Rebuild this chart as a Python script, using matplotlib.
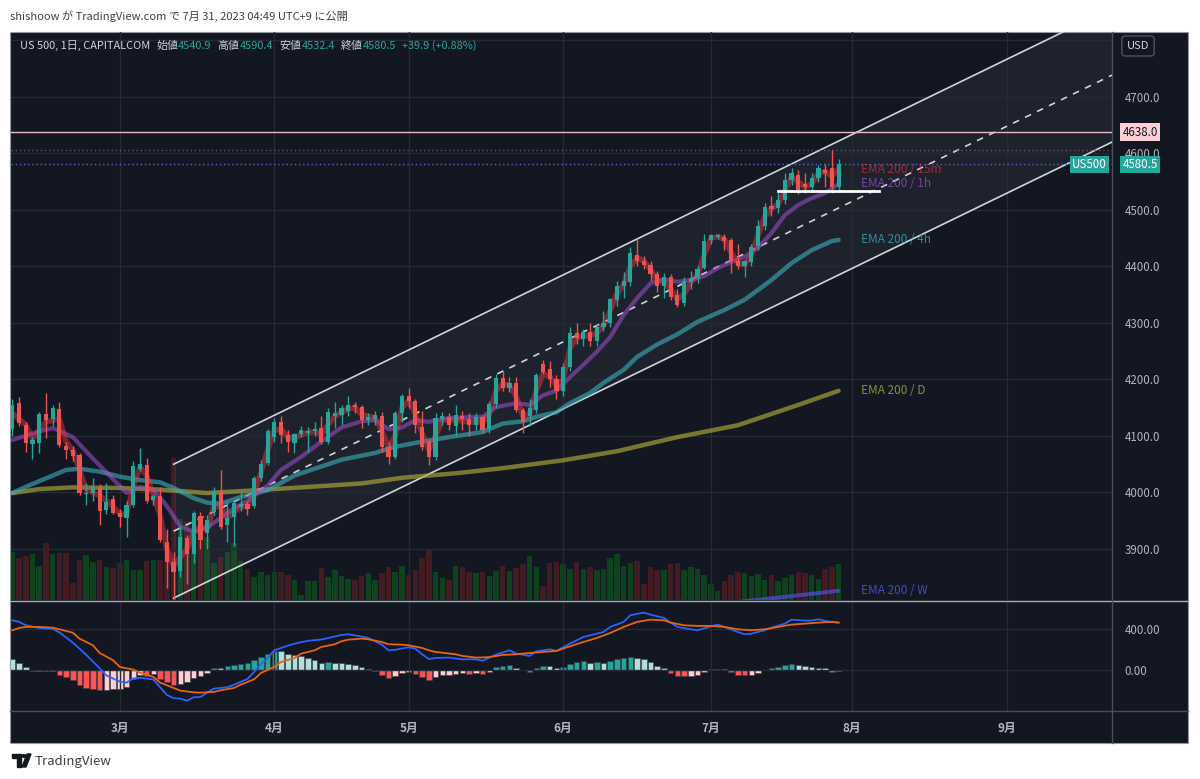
import matplotlib
matplotlib.use('Agg')
import matplotlib.pyplot as plt
from matplotlib.patches import Rectangle, Polygon, Circle
from matplotlib.lines import Line2D
import numpy as np
import pandas as pd

plt.rcParams['font.family'] = ['Noto Sans CJK JP', 'DejaVu Sans']

# ---- data (US 500, daily, CAPITALCOM) ----
dates = pd.bdate_range('2023-02-07', '2023-07-28')

opens = [4112, 4158, 4119, 4085, 4088, 4139, 4130, 4148, 4082, 4075,
         4066, 3997, 3999, 4010, 3969, 3988, 3964, 3955, 3978, 4042,
         4049, 3987, 3994, 3912, 3877, 3861, 3919, 3891, 3958, 3928,
         3966, 4001, 3942, 3957, 3975, 3980, 3976, 4026, 4052, 4098,
         4124, 4102, 4088, 4103, 4105, 4108, 4114, 4090, 4135, 4138,
         4145, 4155, 4152, 4128, 4130, 4135, 4080, 4062, 4140, 4170,
         4162, 4116, 4089, 4062, 4130, 4134, 4118, 4136, 4130, 4120,
         4133, 4112, 4156, 4202, 4185, 4194, 4146, 4135, 4146, 4228,
         4218, 4200, 4180, 4222, 4282, 4272, 4284, 4268, 4292, 4300,
         4340, 4366, 4373, 4420, 4410, 4402, 4386, 4366, 4382, 4350,
         4335, 4373, 4380, 4397, 4447, 4452, 4452, 4447, 4410, 4400,
         4408, 4436, 4472, 4507, 4504, 4518, 4553, 4562, 4546, 4540,
         4557, 4570, 4574, 4540.9]
highs = [4165, 4169, 4125, 4098, 4142, 4176, 4155, 4160, 4090, 4083,
         4070, 4017, 4026, 4015, 4017, 3995, 3970, 3985, 4055, 4078,
         4061, 3997, 4010, 3935, 3895, 3940, 3925, 3968, 3965, 3960,
         4010, 4040, 3985, 3985, 4000, 3985, 4030, 4058, 4112, 4132,
         4135, 4110, 4105, 4118, 4116, 4125, 4135, 4150, 4160, 4155,
         4170, 4160, 4155, 4140, 4145, 4142, 4090, 4145, 4175, 4185,
         4165, 4145, 4095, 4140, 4142, 4140, 4155, 4145, 4140, 4140,
         4138, 4162, 4210, 4215, 4205, 4205, 4150, 4165, 4212, 4235,
         4232, 4208, 4230, 4292, 4300, 4290, 4300, 4298, 4322, 4345,
         4375, 4390, 4434, 4448, 4418, 4410, 4392, 4388, 4386, 4360,
         4382, 4392, 4400, 4458, 4458, 4458, 4458, 4450, 4440, 4412,
         4440, 4482, 4512, 4525, 4532, 4565, 4575, 4570, 4565, 4565,
         4580, 4582, 4607, 4590.4]
lows = [4100, 4118, 4072, 4060, 4070, 4096, 4118, 4080, 4060, 4055,
        3995, 3978, 3985, 3942, 3962, 3962, 3939, 3921, 3975, 4038,
        3982, 3978, 3912, 3831, 3806, 3850, 3838, 3875, 3900, 3900,
        3960, 3935, 3912, 3905, 3968, 3960, 3972, 4020, 4048, 4090,
        4088, 4072, 4070, 4098, 4072, 4100, 4085, 4085, 4115, 4120,
        4135, 4140, 4115, 4120, 4120, 4072, 4050, 4060, 4125, 4150,
        4105, 4075, 4048, 4058, 4120, 4110, 4100, 4110, 4100, 4110,
        4105, 4105, 4150, 4180, 4178, 4143, 4105, 4118, 4140, 4210,
        4187, 4165, 4170, 4215, 4262, 4260, 4260, 4260, 4285, 4292,
        4330, 4345, 4365, 4400, 4395, 4375, 4355, 4345, 4340, 4328,
        4330, 4360, 4370, 4395, 4440, 4448, 4430, 4388, 4395, 4382,
        4400, 4430, 4465, 4490, 4495, 4510, 4545, 4528, 4530, 4532,
        4550, 4540, 4530, 4532.4]
closes = [4155, 4123, 4088, 4092, 4139, 4128, 4150, 4084, 4075, 4065,
          3999, 3999, 4010, 3967, 3983, 3964, 3957, 3978, 4047, 4050,
          3985, 3994, 3916, 3877, 3859, 3921, 3891, 3964, 3916, 3952,
          4002, 3939, 3955, 3981, 3980, 3971, 4026, 4050, 4108, 4124,
          4102, 4090, 4103, 4110, 4108, 4112, 4090, 4142, 4140, 4150,
          4155, 4152, 4128, 4133, 4137, 4080, 4062, 4140, 4170, 4162,
          4120, 4080, 4062, 4132, 4136, 4120, 4138, 4130, 4120, 4134,
          4110, 4157, 4202, 4185, 4193, 4146, 4125, 4150, 4208, 4213,
          4200, 4180, 4222, 4282, 4274, 4284, 4268, 4293, 4300, 4342,
          4366, 4374, 4424, 4410, 4402, 4386, 4366, 4382, 4346, 4332,
          4375, 4380, 4396, 4445, 4455, 4455, 4445, 4410, 4400, 4410,
          4435, 4472, 4505, 4502, 4518, 4553, 4565, 4536, 4540, 4556,
          4575, 4565, 4540.6, 4580.5]
volume = [48, 42, 44, 46, 34, 57, 46, 47, 47, 17, 40, 45, 38, 40, 33, 32,
          37, 40, 30, 30, 39, 40, 40, 55, 142, 81, 78, 72, 78, 63, 37, 43,
          48, 57, 39, 31, 23, 28, 25, 28, 28, 25, 20, 5, 19, 19, 32, 23,
          30, 24, 21, 20, 24, 27, 20, 27, 33, 28, 34, 25, 30, 42, 50, 28,
          22, 20, 34, 33, 28, 27, 28, 24, 29, 34, 29, 32, 36, 44, 33, 14,
          37, 38, 36, 31, 38, 31, 33, 30, 31, 42, 46, 34, 37, 39, 16, 33,
          30, 30, 36, 37, 30, 33, 31, 25, 16, 9, 19, 25, 28, 27, 24, 26,
          20, 25, 19, 22, 25, 28, 27, 25, 21, 31, 33, 36]

# EMA 200 lines from other timeframes, read at selected bars
ema_15m_bar = [0, 2, 3, 5, 7, 8, 9, 10, 11, 13, 15, 16, 17, 18, 19, 20, 21,
               22, 23, 24, 25, 26, 27, 28, 29, 30, 31, 32, 33, 34, 35, 36,
               37, 38, 39, 40, 41, 42, 43, 45, 46, 47, 48, 50, 51, 52, 54,
               55, 56, 57, 58, 59, 60, 61, 62, 63, 64, 66, 68, 70, 71, 72,
               73, 74, 75, 76, 77, 78, 79, 80, 81, 82, 83, 84, 86, 87, 88,
               89, 90, 91, 92, 93, 94, 95, 96, 97, 98, 99, 100, 101, 102,
               103, 104, 105, 106, 107, 108, 109, 110, 111, 112, 113, 114,
               115, 116, 117, 118, 119, 120, 121, 122, 123]
ema_15m = [4140, 4120, 4095, 4125, 4130, 4090, 4075, 4040, 4005, 3995,
           3975, 3962, 3962, 4010, 4045, 4030, 3995, 3960, 3900, 3870,
           3885, 3900, 3930, 3940, 3935, 3975, 3975, 3955, 3965, 3975,
           3975, 4000, 4035, 4075, 4110, 4112, 4098, 4095, 4103, 4108,
           4102, 4120, 4135, 4148, 4150, 4138, 4132, 4110, 4080, 4100,
           4150, 4162, 4140, 4105, 4075, 4100, 4128, 4128, 4125, 4125,
           4138, 4180, 4192, 4190, 4170, 4135, 4140, 4180, 4210, 4205,
           4190, 4200, 4255, 4275, 4278, 4282, 4295, 4322, 4352, 4368,
           4400, 4415, 4410, 4395, 4375, 4372, 4360, 4342, 4352, 4372,
           4385, 4420, 4450, 4453, 4448, 4425, 4405, 4403, 4420, 4455,
           4488, 4502, 4510, 4535, 4558, 4550, 4540, 4546, 4565, 4568,
           4560, 4572]
ema_1h_bar = [0, 4, 6, 9, 12, 14, 17, 19, 21, 23, 25, 27, 29, 31, 33, 35,
              38, 40, 43, 46, 49, 52, 54, 56, 58, 60, 62, 65, 70, 72, 75,
              77, 79, 81, 83, 85, 87, 89, 91, 93, 95, 97, 99, 101, 103,
              105, 107, 109, 111, 113, 115, 117, 119, 121, 123]
ema_1h = [4093, 4108, 4114, 4098, 4060, 4036, 3999, 4010, 4005, 3976,
          3940, 3930, 3938, 3955, 3972, 3985, 4012, 4040, 4063, 4090,
          4115, 4126, 4128, 4112, 4115, 4128, 4125, 4132, 4134, 4151,
          4158, 4155, 4172, 4180, 4204, 4226, 4249, 4275, 4314, 4344,
          4370, 4377, 4373, 4376, 4383, 4397, 4408, 4417, 4433, 4459,
          4491, 4509, 4521, 4530, 4546]
ema_4h_bar = [0, 2, 5, 8, 10, 13, 16, 19, 22, 24, 27, 29, 31, 34, 38, 42,
              45, 49, 54, 57, 61, 65, 70, 73, 76, 78, 81, 83, 86, 88, 91,
              93, 96, 99, 102, 106, 109, 113, 116, 119, 122, 123]
ema_4h = [3999, 4010, 4025, 4040, 4042, 4037, 4028, 4022, 4018, 4008,
          3990, 3982, 3980, 3992, 4004, 4030, 4042, 4058, 4070, 4081,
          4090, 4098, 4107, 4122, 4126, 4134, 4142, 4158, 4176, 4194,
          4217, 4240, 4262, 4280, 4302, 4323, 4341, 4376, 4406, 4429,
          4445, 4447]
ema_d_bar = [0, 4, 9, 16, 22, 29, 35, 43, 52, 58, 66, 73, 82, 90, 99, 108,
             117, 123]
ema_d = [3999, 4006, 4009, 4008, 4005, 3999, 4003, 4009, 4016, 4026, 4034,
         4043, 4057, 4073, 4098, 4119, 4155, 4180]
ema_w_bar = [100, 111, 117, 123]
ema_w = [3796, 3810, 3818, 3826]

# MACD pane
macd_hist = [107, 75, 33, -10, -4, -8, -6, -42, -68, -98, -140, -169, -179,
             -195, -188, -187, -185, -163, -88, -49, -55, -33, -81, -114,
             -146, -130, -114, -75, -55, -23, 26, 24, 39, 55, 65, 72, 98,
             130, 163, 189, 185, 163, 146, 140, 120, 98, 75, 81, 75, 72, 65,
             49, 29, 13, -7, -42, -75, -55, -23, -16, -33, -65, -91, -65,
             -49, -42, -33, -23, -36, -26, -36, -20, 33, 42, 49, 23, 7, -13,
             23, 39, 38, 23, 33, 65, 81, 88, 72, 81, 75, 91, 107, 117, 130,
             124, 107, 81, 39, 23, -26, -59, -60, -57, -42, -16, 10, 13, 10,
             -16, -42, -49, -45, -26, 7, 23, 33, 55, 65, 55, 39, 29, 27, 20,
             -13, -10]
macd_bar = [0, 1, 2, 4, 6, 7, 9, 10, 11, 13, 14, 16, 17, 18, 19, 21, 22, 23,
            24, 25, 26, 27, 28, 29, 30, 32, 33, 35, 36, 37, 38, 39, 41, 42,
            44, 46, 47, 49, 50, 52, 53, 55, 56, 57, 59, 60, 61, 62, 63, 65,
            67, 69, 70, 72, 74, 75, 77, 78, 80, 81, 83, 85, 86, 88, 89, 91,
            92, 94, 95, 97, 98, 99, 101, 102, 104, 105, 106, 108, 109, 110,
            112, 113, 115, 116, 118, 119, 120, 121, 123]
macd_line = [488, 472, 440, 413, 405, 370, 270, 211, 150, 20, -50, -110,
             -120, -80, -72, -90, -165, -240, -272, -276, -296, -263, -260,
             -218, -179, -165, -140, -85, -16, 60, 120, 195, 240, 260, 288,
             300, 315, 345, 351, 330, 315, 250, 195, 200, 225, 211, 156, 110,
             120, 124, 107, 107, 94, 153, 195, 163, 140, 185, 205, 189, 260,
             325, 341, 374, 423, 472, 537, 563, 543, 511, 465, 423, 400, 390,
             429, 446, 423, 374, 351, 358, 390, 416, 455, 494, 485, 485, 498,
             481, 465]
signal_bar = [0, 1, 2, 4, 6, 7, 9, 10, 12, 13, 15, 16, 18, 19, 21, 22, 24,
              25, 27, 28, 30, 31, 33, 34, 36, 37, 39, 40, 42, 43, 45, 46, 48,
              49, 50, 52, 53, 55, 56, 58, 59, 61, 62, 63, 66, 67, 69, 71, 73,
              75, 77, 79, 81, 83, 85, 87, 89, 91, 93, 95, 97, 98, 100, 102,
              104, 106, 108, 110, 112, 114, 116, 118, 120, 122, 123]
signal_line = [390, 413, 423, 423, 416, 400, 367, 309, 244, 169, 98, 33, 7,
               -23, -65, -120, -172, -198, -215, -218, -211, -195, -172,
               -140, -88, -26, 33, 81, 120, 163, 195, 228, 254, 283, 299,
               309, 302, 276, 254, 250, 244, 218, 195, 179, 156, 140, 124,
               128, 150, 156, 169, 179, 189, 234, 276, 315, 364, 423, 472,
               494, 488, 465, 439, 433, 433, 423, 400, 390, 400, 423, 446,
               455, 465, 472, 465]

# drawings
channel_bar = [24, 123]
channel_lower = [3813, 4385]
channel_width = 237
resistance = 4638.0
day_high_line = 4607.0
support_bar = [114, 129]
support_price = 4533
month_names = ['3月', '4月', '5月', '6月', '7月', '8月', '9月']
price_ticks = [3900, 4000, 4100, 4200, 4300, 4400, 4500, 4600, 4700, 4800]

# ---- style ----
W, H = 1200, 779
BG = '#131722'
GRID = '#262a35'
AXTXT = '#b2b5be'
UP, DOWN = '#26a69a', '#ef5350'


def fx(px):
    return px / W


def fy(py):
    return 1 - py / H


fig = plt.figure(figsize=(12, 7.79), dpi=100, facecolor='white')
fig.add_artist(Rectangle((fx(10), fy(743)), fx(1188 - 10), (743 - 32) / H,
                         transform=fig.transFigure, facecolor=BG,
                         edgecolor='#9598a1', lw=0.8, zorder=-5))

ax = fig.add_axes([fx(11), fy(600), fx(1112 - 11), 568 / H])
axv = ax.twinx()
axm = fig.add_axes([fx(11), fy(711), fx(1112 - 11), 110 / H], sharex=ax)

x = np.arange(len(dates))
o, h, l, c = map(np.array, (opens, highs, lows, closes))
up = c >= o
col = np.where(up, UP, DOWN)

future = pd.bdate_range(dates[0], '2023-09-30')
month_pos = [int(np.argmax(future.month == m)) for m in range(3, 10)]
xmax = 163.7

for a in (ax, axv, axm):
    a.set_xlim(-0.2, xmax)
    for s in a.spines.values():
        s.set_visible(False)
    a.patch.set_visible(False)

ax.set_zorder(2)
axv.set_zorder(1)

# volume
axv.bar(x, volume, width=0.82, color=np.where(up, '#0e421f', '#421b23'))
axv.set_ylim(0, 4 * max(volume))
axv.set_yticks([])

# grid and price scale
ax.set_ylim(3809.7, 4815)
ax.set_yticks(price_ticks)
ax.set_yticklabels([f'{v:.1f}' if v < 4800 else '' for v in price_ticks])
ax.yaxis.tick_right()
ax.tick_params(axis='y', length=0, pad=9, labelsize=8.3, labelcolor=AXTXT)
ax.set_xticks(month_pos)
ax.tick_params(axis='x', length=0, labelbottom=False)
ax.grid(True, color=GRID, lw=1, zorder=0)

# channel
slope = (channel_lower[1] - channel_lower[0]) / (channel_bar[1] - channel_bar[0])
cx = np.array([channel_bar[0], xmax])
low_line = channel_lower[0] + slope * (cx - channel_bar[0])
up_line = low_line + channel_width
mid_line = low_line + channel_width / 2
ax.fill_between(cx, low_line, up_line, color='#9598a1', alpha=0.09, lw=0)
ax.plot(cx, up_line, color='#d1d4dc', lw=1.2)
ax.plot(cx, low_line, color='#d1d4dc', lw=1.2)
ax.plot(cx, mid_line, color='#d1d4dc', lw=1.2, ls=(0, (4, 4)))

ax.axhline(resistance, color='#efb8c2', lw=1)
ax.axhline(day_high_line, color='#5d606b', lw=1, ls=(0, (1, 2)))
ax.axhline(closes[-1], color='#4a6fc4', lw=1, ls=(0, (1, 2)))

# EMA lines
emas = [
    (ema_d_bar, ema_d, '#b0aa3a', 3.2, 0.65, 'EMA 200 / D'),
    (ema_4h_bar, ema_4h, '#3aa6b3', 3.2, 0.65, 'EMA 200 / 4h'),
    (ema_w_bar, ema_w, '#4a4fd0', 2.8, 0.75, 'EMA 200 / W'),
    (ema_1h_bar, ema_1h, '#a051cf', 3.0, 0.55, 'EMA 200 / 1h'),
    (ema_15m_bar, ema_15m, '#f23645', 4.0, 0.45, 'EMA 200 / 15m'),
]
for bars, vals, cc, lw, al, name in emas:
    ax.plot(bars, vals, color=cc, lw=lw, alpha=al, solid_capstyle='round',
            solid_joinstyle='round')
    ax.text(bars[-1] + 3.3, vals[-1], name, color=cc, alpha=min(1, al + 0.15),
            fontsize=8.5, va='center', ha='left', clip_on=True)

# candles
body_lo = np.minimum(o, c)
body_h = np.maximum(np.abs(c - o), 1.0)
ax.vlines(x, l, h, color=col, lw=1, zorder=3)
ax.bar(x, body_h, bottom=body_lo, width=0.62, color=col, zorder=4)

ax.plot(support_bar, [support_price] * 2, color='white', lw=2, zorder=5)

# price scale labels
lbl = dict(xycoords=('axes fraction', 'data'), va='center', fontsize=8.3,
           annotation_clip=False, zorder=10)
ax.annotate(f'{resistance:.1f}', (1.0095, resistance), color='#131722',
            bbox=dict(boxstyle='square,pad=0.2', fc='#fccfd6', ec='none'), **lbl)
ax.annotate(f'{closes[-1]:.1f}', (1.0095, closes[-1]), color='white',
            bbox=dict(boxstyle='square,pad=0.2', fc=UP, ec='none'), **lbl)
ax.annotate('US500', (0.9955, closes[-1]), color='white', ha='right',
            bbox=dict(boxstyle='square,pad=0.2', fc=UP, ec='none'), **lbl)

# MACD pane
hist = np.array(macd_hist, dtype=float)
prev = np.r_[np.inf, hist[:-1]]
hcol = np.where(hist >= 0, np.where(hist > prev, '#26a69a', '#b2dfdb'),
                np.where(hist < prev, '#ff5252', '#ffcdd2'))
axm.bar(x, hist, width=0.82, color=hcol, edgecolor='#3a3d48', lw=0.4)
axm.plot(macd_bar, macd_line, color='#2962ff', lw=1.3)
axm.plot(signal_bar, signal_line, color='#e8650f', lw=1.3)
axm.set_ylim(-397, 676)
axm.set_yticks([0, 400])
axm.set_yticklabels(['0.00', '400.00'])
axm.yaxis.tick_right()
axm.tick_params(axis='y', length=0, pad=9, labelsize=8.3, labelcolor=AXTXT)
axm.set_xticks(month_pos)
axm.set_xticklabels(month_names)
axm.tick_params(axis='x', length=0, pad=8, labelsize=8.5, labelcolor=AXTXT)
for t in axm.get_xticklabels():
    t.set_fontweight('bold')
axm.grid(True, color=GRID, lw=1, zorder=0)

# pane separators
for (x0, y0, x1, y1, cc) in [(10, 601, 1188, 601, '#a9acb5'),
                             (10, 711, 1188, 711, '#4a4e5a'),
                             (1112, 32, 1112, 743, '#4a4e5a')]:
    fig.add_artist(Line2D([fx(x0), fx(x1)], [fy(y0), fy(y1)], color=cc,
                          lw=1, transform=fig.transFigure))

# header texts
fig.text(fx(10), fy(16), 'shishoow が TradingView.com で 7月 31, 2023 04:49 UTC+9 に公開',
         color='#404040', fontsize=8, va='center', ha='left')
chg = closes[-1] - closes[-2]
pct = chg / closes[-2] * 100
LAB = '#d1d4dc'
pieces = [('US 500, 1日, CAPITALCOM', LAB, 6), ('始値', LAB, 0),
          (f'{opens[-1]:.1f}', UP, 6), ('高値', LAB, 0),
          (f'{highs[-1]:.1f}', UP, 6), ('安値', LAB, 0),
          (f'{lows[-1]:.1f}', UP, 6), ('終値', LAB, 0),
          (f'{closes[-1]:.1f}', UP, 6), (f'{chg:+.1f} ({pct:+.2f}%)', UP, 0)]
renderer = fig.canvas.get_renderer()
xpos = 20
for txt, cc, gap in pieces:
    t = fig.text(fx(xpos), fy(46), txt, color=cc, fontsize=7.9, va='center', ha='left')
    xpos += t.get_window_extent(renderer).width + gap

fig.text(fx(1138), fy(46), 'USD', color=LAB, fontsize=8, va='center', ha='center',
         bbox=dict(boxstyle='round,pad=0.45,rounding_size=0.3', fc=BG, ec='#50535e', lw=1))

# TradingView logo
fig.add_artist(Polygon([(fx(a), fy(b)) for a, b in
                        [(12, 754), (21, 754), (21, 767), (17, 767), (17, 758), (12, 758)]],
                       closed=True, transform=fig.transFigure, color='#131722'))
fig.add_artist(Circle((fx(24), fy(756)), 2.0 / W, transform=fig.transFigure,
                      color='#131722'))
fig.add_artist(Polygon([(fx(a), fy(b)) for a, b in
                        [(27, 754), (31, 754), (26, 767), (22, 767)]],
                       closed=True, transform=fig.transFigure, color='#131722'))
fig.text(fx(35), fy(761), 'TradingView', color='#404040', fontsize=9.5,
         va='center', ha='left')

fig.savefig('out.png', dpi=100, facecolor='white')
